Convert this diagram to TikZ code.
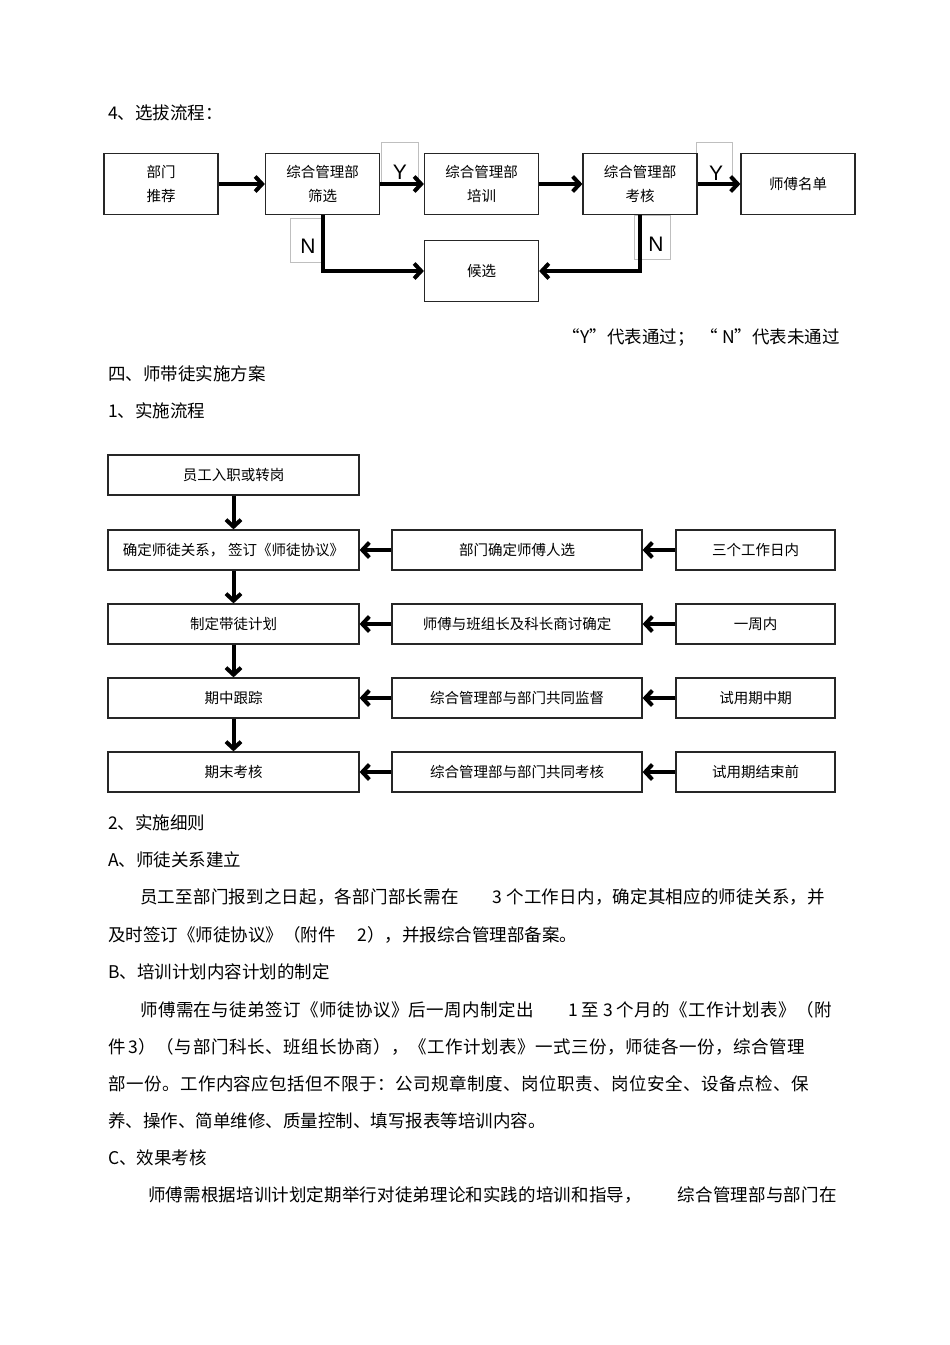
\documentclass[tikz,border=0pt]{standalone}
\usepackage{fontspec}
\setmainfont{Noto Sans CJK SC}
\newfontfamily\ynfont{Liberation Sans}
\usepackage{tikz}
\usetikzlibrary{arrows.meta}
\usetikzlibrary{positioning}
\newcommand{\bodysize}{\fontsize{17.5}{20}\selectfont}
\newcommand{\boxsize}{\fontsize{14.5}{24}\selectfont}
% justified line: a little letter spacing
\newcommand{\jline}[2]{{\addfontfeature{LetterSpace=#1}#2}}

\begin{document}
\begin{tikzpicture}[
        x=1pt, y=-1pt,
        defaultS/.style={
            line width=1.2pt,
            fill=white,
            align=center,
            inner sep=0pt,
            draw=black!85,
            font=\boxsize
        },
        boxS/.style={
        	defaultS,
        	rectangle,
        	minimum width=114pt,
        	minimum height=61pt
        },
        rowS/.style={
        	defaultS,
        	rectangle,
        	minimum height=40pt
        },
        leftS/.style={rowS, minimum width=251pt},
        midS/.style={rowS, minimum width=250pt},
        rightS/.style={rowS, minimum width=159pt},
        tagS/.style={
            draw=black!25,
            line width=0.8pt,
            inner sep=0pt
        },
        ynS/.style={
            inner sep=0pt,
            font=\ynfont\fontsize{21}{21}\selectfont
        },
        textS/.style={
            anchor=west,
            inner sep=0pt,
            font=\bodysize
        },
        arrowS/.style={
            line width=4pt,
            -{Straight Barb[length=7pt,width=15pt]}
        },
    ]

    \fill[white] (0,0) rectangle (950,1345);
    \useasboundingbox (0,0) rectangle (950,1345);

    % selection flow
    \node[textS] (h4) at (108,113) {4、选拔流程：};

    \node[tagS, minimum width=37pt, minimum height=42pt] (fy1) at (399.5,163) {};
    \node[tagS, minimum width=36pt, minimum height=42pt] (fy2) at (714,163) {};
    \node[tagS, minimum width=32pt, minimum height=44pt] (fn1) at (306,240) {};
    \node[tagS, minimum width=36pt, minimum height=44pt] (fn2) at (652,237) {};
    \node[ynS] (y1) at (400,172) {Y};
    \node[ynS] (y2) at (716,173) {Y};
    \node[ynS] (n1) at (308,246) {N};
    \node[ynS] (n2) at (656,244) {N};

	\node[boxS] (rec) at (161,184) {部门\\推荐};
	\node[boxS] (shai) at (322.5,184) {综合管理部\\筛选};
	\node[boxS] (pei) at (481.5,184) {综合管理部\\培训};
	\node[boxS] (kao) at (640,184) {综合管理部\\考核};
	\node[boxS] (ming) at (798,184) {师傅名单};
	\node[boxS] (hou) at (481.5,271) {候选};

	\draw[arrowS] (rec) -- (shai);
	\draw[arrowS] (shai) -- (pei);
	\draw[arrowS] (pei) -- (kao);
	\draw[arrowS] (kao) -- (ming);
	\draw[arrowS] (shai) |- (hou);
	\draw[arrowS] (kao) |- (hou);

    \node[textS, anchor=east] (cap) at (840,337) {“Y”代表通过；\hspace{6pt}“\hspace{4pt}N”代表未通过};
    \node[textS] (t1) at (108,374) {四、师带徒实施方案};
    \node[textS] (t2) at (108,411) {1、实施流程};

    % implementation flow
	\node[leftS] (s1) at (233.5,475) {员工入职或转岗};
	\node[leftS] (s2) at (233.5,550) {确定师徒关系，\hspace{4pt}签订《师徒协议》};
	\node[leftS] (s3) at (233.5,624) {制定带徒计划};
	\node[leftS] (s4) at (233.5,698) {期中跟踪};
	\node[leftS] (s5) at (233.5,772) {期末考核};
	\node[midS] (m2) at (517,550) {部门确定师傅人选};
	\node[midS] (m3) at (517,624) {师傅与班组长及科长商讨确定};
	\node[midS] (m4) at (517,698) {综合管理部与部门共同监督};
	\node[midS] (m5) at (517,772) {综合管理部与部门共同考核};
	\node[rightS] (r2) at (755.5,550) {三个工作日内};
	\node[rightS] (r3) at (755.5,624) {一周内};
	\node[rightS] (r4) at (755.5,698) {试用期中期};
	\node[rightS] (r5) at (755.5,772) {试用期结束前};

	\draw[arrowS] (s1) -- (s2);
	\draw[arrowS] (s2) -- (s3);
	\draw[arrowS] (s3) -- (s4);
	\draw[arrowS] (s4) -- (s5);
	\draw[arrowS] (m2) -- (s2);
	\draw[arrowS] (m3) -- (s3);
	\draw[arrowS] (m4) -- (s4);
	\draw[arrowS] (m5) -- (s5);
	\draw[arrowS] (r2) -- (m2);
	\draw[arrowS] (r3) -- (m3);
	\draw[arrowS] (r4) -- (m4);
	\draw[arrowS] (r5) -- (m5);

    % details
    \node[textS] (t3) at (108,823) {2、实施细则};
    \node[textS] (t4) at (108,860) {A、师徒关系建立};
    \node[textS] (t5) at (140,897) {\jline{1.2}{员工至部门报到之日起，各部门部长需在\hspace{34pt}3\hspace{4pt}个工作日内，确定其相应的师徒关系，并}};
    \node[textS] (t6) at (108,935) {及时签订《师徒协议》（附件\hspace{22pt}2），并报综合管理部备案。};
    \node[textS] (t7) at (108,972) {B、培训计划内容计划的制定};
    \node[textS] (t8) at (140,1010) {\jline{2.4}{师傅需在与徒弟签订《师徒协议》后一周内制定出\hspace{34pt}1\hspace{4pt}至\hspace{4pt}3\hspace{4pt}个月的《工作计划表》（附}};
    \node[textS] (t9) at (108,1047) {\jline{3}{件\hspace{3pt}3）（与部门科长、班组长协商），《工作计划表》一式三份，师徒各一份，综合管理}};
    \node[textS] (t10) at (108,1084) {\jline{2.7}{部一份。工作内容应包括但不限于：公司规章制度、岗位职责、岗位安全、设备点检、保}};
    \node[textS] (t11) at (108,1121) {养、操作、简单维修、质量控制、填写报表等培训内容。};
    \node[textS] (t12) at (108,1158) {C、效果考核};
    \node[textS] (t13) at (148,1195) {\jline{0.8}{师傅需根据培训计划定期举行对徒弟理论和实践的培训和指导，\hspace{36pt}综合管理部与部门在}};

\end{tikzpicture}
\end{document}
